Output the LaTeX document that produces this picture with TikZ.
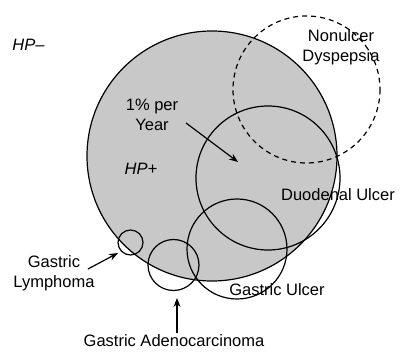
\documentclass[tikz,border=0pt]{standalone}
\usepackage{fontspec}
\setmainfont{Liberation Sans}
\usetikzlibrary{arrows.meta}
\definecolor{hpgrey}{RGB}{200,200,200}
\tikzset{
  ring/.style={draw=black, line width=1.2pt},
  dashring/.style={draw=black, line width=1.2pt, dash pattern=on 5pt off 4pt},
  lbl/.style={font=\fontsize{16.5}{20}\selectfont, align=center, inner sep=0pt},
  ptr/.style={draw=black, line width=1.2pt, -{Stealth[length=9pt,width=7pt]}}
}
\begin{document}
\begin{tikzpicture}[x=1pt,y=-1pt]
\useasboundingbox (0,0) rectangle (401,352);
% centres
\coordinate (cHP) at (212,156);
\coordinate (cND) at (306.5,89.5);
\coordinate (cDU) at (268,178);
\coordinate (cGU) at (237,249);
\coordinate (cGA) at (173.5,265);
\coordinate (cGL) at (130.5,242.5);
% big circle
\fill[hpgrey] (cHP) circle[radius=125];
\draw[ring] (cHP) circle[radius=125];
\draw[dashring] (cND) circle[radius=73.5];
\draw[ring] (cDU) circle[radius=72];
\draw[ring] (cGU) circle[radius=50];
\draw[ring] (cGA) circle[radius=25.5];
\draw[ring] (cGL) circle[radius=12.5];
% labels
\node[lbl, font=\fontsize{16.5}{20}\selectfont\itshape] (hpneg) at (28.5,45) {HP–};
\node[lbl, font=\fontsize{16.5}{20}\selectfont\itshape] (hppos) at (141,169) {HP+};
\node[lbl] (nud) at (341,47) {Nonulcer\\Dyspepsia};
\node[lbl] (rate) at (152,114.5) {1\% per\\Year};
\node[lbl] (du) at (338,195) {Duodenal Ulcer};
\node[lbl] (gl) at (54,273) {Gastric\\Lymphoma};
\node[lbl] (gu) at (277,290) {Gastric Ulcer};
\node[lbl] (ga) at (174,341) {Gastric Adenocarcinoma};
% arrows
\coordinate (rateS) at (186,123);
\coordinate (rateE) at (238,162);
\coordinate (glS) at (88,269);
\coordinate (glE) at (118,253);
\coordinate (gaS) at (177,333);
\coordinate (gaE) at (177,298);
\draw[ptr] (rateS) -- (rateE);
\draw[ptr] (glS) -- (glE);
\draw[ptr] (gaS) -- (gaE);
\end{tikzpicture}
\end{document}
